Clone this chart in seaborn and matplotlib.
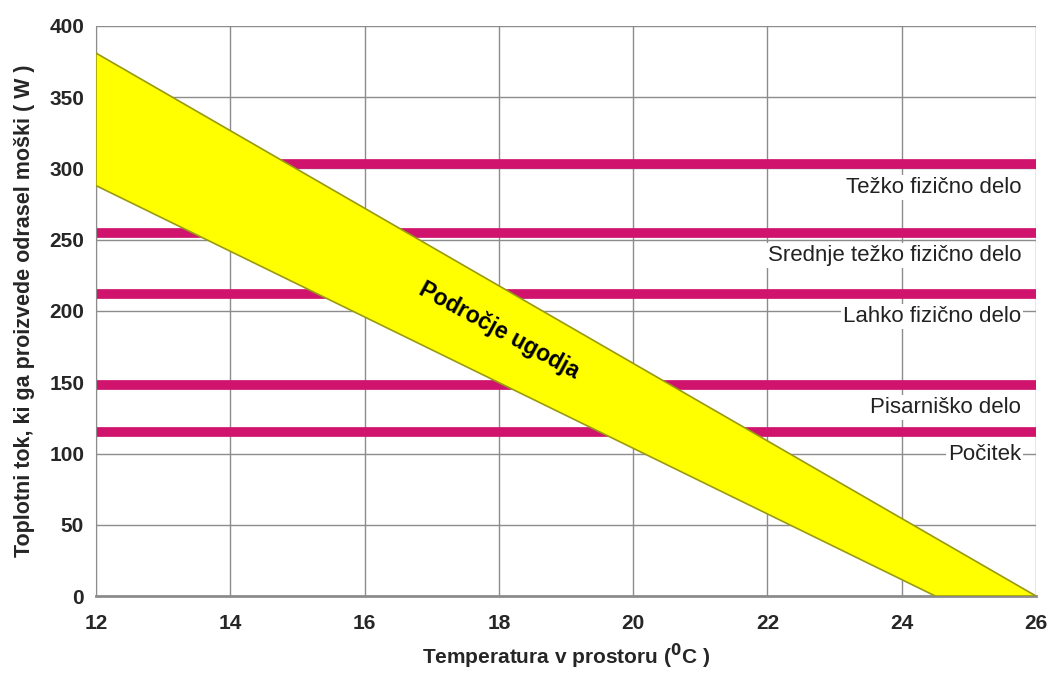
import matplotlib
matplotlib.use("Agg")
import matplotlib.pyplot as plt
import numpy as np
import pandas as pd
import seaborn as sns

# podatki odčitani s slike
temp_zgornja = [12, 26]        # zgornja meja območja ugodja
moc_zgornja = [381, 0]
temp_spodnja = [12, 24.5]      # spodnja meja območja ugodja
moc_spodnja = [288, 0]

dejavnosti = ["Težko fizično delo", "Srednje težko fizično delo", "Lahko fizično delo",
              "Pisarniško delo", "Počitek"]
moc_dejavnosti = [303, 255, 212, 148, 115]

x_ticks = [12, 14, 16, 18, 20, 22, 24, 26]
y_ticks = [0, 50, 100, 150, 200, 250, 300, 350, 400]

sns.set_style("whitegrid", {"grid.color": "#8c8c8c", "axes.edgecolor": "#8c8c8c"})
plt.rcParams['font.family'] = ['Liberation Sans', 'DejaVu Sans']

fig = plt.figure(figsize=(10.51, 6.73), dpi=100)
ax = fig.add_axes([0.0913, 0.1144, 0.8944, 0.847])

# vodoravne črte za dejavnosti
for ime, moc in zip(dejavnosti, moc_dejavnosti):
    df = pd.DataFrame({"T": [x_ticks[0], x_ticks[-1]], "P": [moc, moc]})
    sns.lineplot(data=df, x="T", y="P", ax=ax, color="#d0146e", linewidth=7,
                 solid_capstyle="butt", zorder=2)
    ax.text(25.78, moc - 16, ime, ha="right", va="center", fontsize=16, color="#222222",
            bbox=dict(facecolor="white", edgecolor="none", pad=1.5), zorder=3)

# območje ugodja
poly_x = temp_zgornja + temp_spodnja[::-1]
poly_y = moc_zgornja + moc_spodnja[::-1]
ax.fill(poly_x, poly_y, facecolor="#ffff00", edgecolor="#9a9a10", linewidth=1.2, zorder=4)

ax.text(18.0, 186, "Področje ugodja", rotation=-28.5, ha="center", va="center",
        fontsize=16.5, fontweight="bold", color="black", zorder=5,
        rotation_mode="anchor")

ax.set_xlim(12, 26)
ax.set_ylim(0, 400)
ax.set_xticks(x_ticks)
ax.set_yticks(y_ticks)
ax.tick_params(axis="both", labelsize=15, length=5, color="#8c8c8c", direction="out")
ax.tick_params(axis="x", pad=8)
for lab in ax.get_xticklabels() + ax.get_yticklabels():
    lab.set_fontweight("bold")
ax.grid(True, color="#8c8c8c", linewidth=1)
for s in ["top", "right"]:
    ax.spines[s].set_visible(False)
ax.spines["left"].set_color("#8c8c8c")
ax.spines["bottom"].set_color("#8c8c8c")
ax.spines["bottom"].set_linewidth(2)

ax.set_xlabel(r"Temperatura v prostoru ($\mathbf{^0}$C )", fontsize=15, fontweight="bold", labelpad=6)
ax.set_ylabel("Toplotni tok, ki ga proizvede odrasel moški ( W )", fontsize=15.5,
              fontweight="bold", labelpad=10)

fig.savefig("out.png", dpi=100)
